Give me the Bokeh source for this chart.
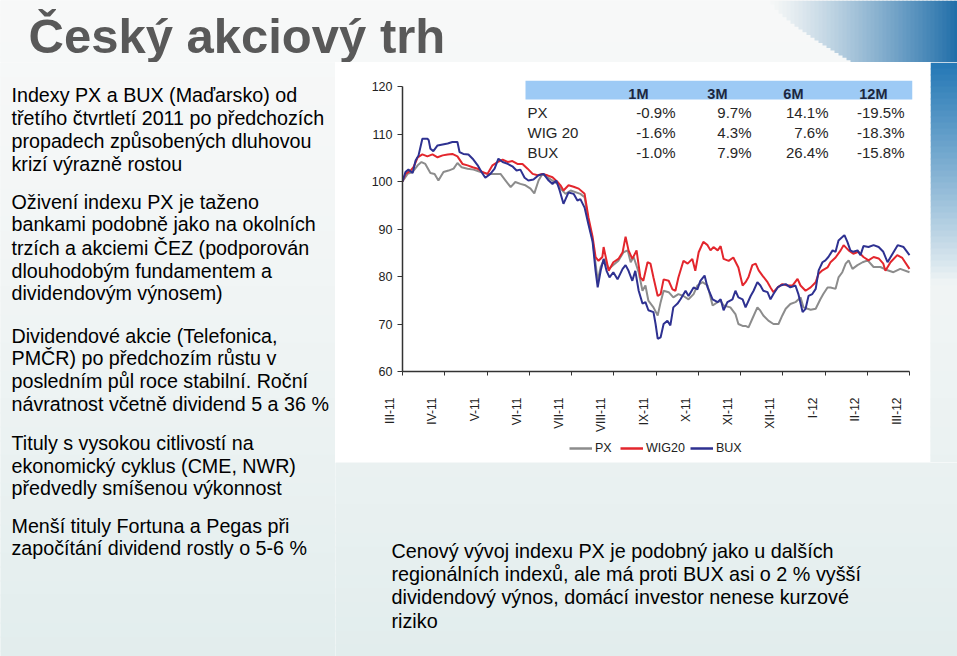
import math
from bokeh.plotting import figure
from bokeh.layouts import row, column
from bokeh.models import Range1d, FixedTicker, Label, BoxAnnotation, Legend, LegendItem, ColumnDataSource
from bokeh.core.properties import value
from bokeh.embed import file_html
from bokeh.resources import INLINE

# ---------------- data ----------------
month_labels = ["III-11", "IV-11", "V-11", "VI-11", "VII-11", "VIII-11", "IX-11",
                "X-11", "XI-11", "XII-11", "I-12", "II-12", "III-12"]
y_ticks = [60, 70, 80, 90, 100, 110, 120]

# time in months since start of the series, index value (start = 100)
px_t = [0, 0.12, 0.24, 0.36, 0.45, 0.54, 0.66, 0.76, 0.85, 0.97, 1.09, 1.21, 1.30, 1.40, 1.54,
        1.68, 1.85, 2.01, 2.15, 2.32, 2.44, 2.56, 2.67, 2.79, 2.91, 3.03, 3.12, 3.22, 3.31, 3.43,
        3.55, 3.67, 3.74, 3.86, 3.98, 4.21, 4.31, 4.40, 4.50, 4.57, 4.62, 4.69, 4.78, 4.88, 4.99,
        5.11, 5.23, 5.33, 5.40, 5.47, 5.59, 5.68, 5.75, 5.82, 5.94, 6.04, 6.11, 6.18, 6.30, 6.41,
        6.53, 6.65, 6.77, 6.89, 6.98, 7.10, 7.22, 7.34, 7.46, 7.53, 7.60, 7.76, 7.88, 7.95, 8.05,
        8.12, 8.19, 8.28, 8.40, 8.47, 8.54, 8.66, 8.78, 8.90, 8.99, 9.07, 9.18, 9.30, 9.42, 9.49,
        9.59, 9.66, 9.78, 9.89, 9.96, 10.06, 10.13, 10.25, 10.32, 10.41, 10.49, 10.56, 10.65,
        10.77, 10.89, 11.01, 11.15, 11.31, 11.48, 11.62, 11.78, 12.0]
px_v = [100.0, 101.6, 102.0, 103.4, 104.1, 103.7, 101.8, 101.6, 100.2, 102.0, 102.3, 102.7,
        103.9, 103.0, 102.7, 102.5, 102.0, 101.6, 101.6, 101.6, 100.2, 98.8, 99.9, 99.5, 99.2,
        98.5, 97.5, 100.2, 101.6, 100.9, 100.2, 99.5, 98.5, 97.4, 98.1, 97.4, 96.7, 91.8, 87.6,
        82.7, 79.1, 82.0, 83.7, 81.6, 82.4, 83.3, 85.1, 85.5, 83.0, 84.1, 80.9, 77.0, 78.1, 74.9,
        73.5, 71.8, 74.6, 77.0, 76.7, 75.6, 76.3, 75.9, 75.2, 76.3, 78.1, 78.8, 78.1, 73.9, 74.6,
        74.9, 73.9, 73.5, 72.1, 70.0, 69.6, 69.6, 69.3, 71.1, 73.5, 72.8, 71.8, 70.7, 70.0, 70.0,
        71.8, 73.2, 74.2, 74.6, 75.6, 73.5, 73.2, 73.0, 73.2, 75.2, 76.3, 77.7, 77.7, 77.4, 79.8,
        80.9, 82.7, 83.4, 81.6, 82.4, 83.0, 83.4, 82.0, 82.0, 81.3, 80.9, 81.6, 80.9]

wig_t = [0, 0.07, 0.19, 0.26, 0.36, 0.47, 0.59, 0.71, 0.83, 0.95,
         1.07, 1.18, 1.30, 1.42, 1.54, 1.66, 1.78, 1.89, 2.01, 2.13,
         2.25, 2.37, 2.49, 2.60, 2.72, 2.84, 2.96, 3.08, 3.20, 3.31,
         3.43, 3.55, 3.67, 3.74, 3.81, 3.93, 4.05, 4.17, 4.31, 4.40,
         4.50, 4.57, 4.64, 4.73, 4.76, 4.83, 4.88, 4.99, 5.11, 5.21,
         5.28, 5.35, 5.44, 5.54, 5.63, 5.70, 5.80, 5.87, 5.94, 6.04,
         6.11, 6.18, 6.30, 6.39, 6.46, 6.53, 6.65, 6.75, 6.86, 6.93,
         7.01, 7.12, 7.22, 7.29, 7.36, 7.46, 7.53, 7.60, 7.72, 7.83,
         7.95, 8.05, 8.12, 8.19, 8.28, 8.36, 8.43, 8.52, 8.64, 8.71,
         8.78, 8.88, 8.99, 9.11, 9.23, 9.35, 9.42, 9.54, 9.66, 9.78,
         9.85, 9.94, 10.06, 10.13, 10.25, 10.37, 10.44, 10.56, 10.67, 10.79,
         10.91, 11.03, 11.15, 11.27, 11.38, 11.43, 11.55, 11.71, 11.83, 12.0]
wig_v = [100.0, 101.6, 102.3, 103.0, 105.1, 105.7, 105.3, 105.7, 105.1, 105.5,
         105.7, 105.8, 105.3, 103.7, 103.4, 103.0, 102.7, 102.0, 101.6, 103.4,
         104.1, 104.6, 104.1, 104.3, 103.7, 103.7, 102.7, 101.6, 101.3, 101.6,
         101.3, 100.9, 99.9, 99.2, 98.1, 99.2, 98.9, 98.5, 97.4, 92.5,
         88.3, 84.1, 83.3, 84.1, 86.2, 83.3, 81.2, 83.0, 83.7, 85.1,
         88.4, 85.5, 83.7, 85.5, 79.8, 79.1, 83.0, 82.7, 79.8, 75.9,
         76.3, 79.4, 79.1, 77.3, 77.0, 79.8, 83.3, 82.7, 83.7, 81.2,
         85.1, 87.3, 86.6, 85.5, 86.2, 85.5, 86.4, 83.7, 83.3, 84.0,
         81.9, 78.1, 78.8, 79.9, 82.4, 82.7, 81.3, 80.2, 78.8, 77.7,
         76.7, 77.7, 78.4, 78.1, 78.1, 79.5, 78.1, 77.0, 77.7, 78.8,
         80.6, 81.3, 81.9, 83.0, 84.0, 85.5, 86.6, 85.5, 84.8, 85.2,
         84.1, 83.4, 84.1, 83.8, 82.7, 81.2, 83.0, 84.5, 83.9, 81.6]

bux_t = [0, 0.07, 0.14, 0.24, 0.31, 0.38, 0.47, 0.59, 0.62, 0.66,
         0.73, 0.83, 0.95, 1.07, 1.18, 1.30, 1.35, 1.44, 1.56, 1.66,
         1.78, 1.87, 1.96, 2.08, 2.18, 2.27, 2.37, 2.49, 2.60, 2.70,
         2.79, 2.89, 2.98, 3.10, 3.22, 3.34, 3.46, 3.55, 3.64, 3.72,
         3.81, 3.93, 4.05, 4.14, 4.21, 4.31, 4.40, 4.50, 4.57, 4.62,
         4.69, 4.76, 4.83, 4.90, 4.99, 5.09, 5.21, 5.28, 5.35, 5.44,
         5.51, 5.59, 5.68, 5.75, 5.82, 5.94, 5.99, 6.04, 6.11, 6.18,
         6.27, 6.34, 6.41, 6.51, 6.58, 6.70, 6.77, 6.89, 6.98, 7.05,
         7.15, 7.22, 7.34, 7.46, 7.53, 7.60, 7.69, 7.81, 7.88, 7.95,
         8.05, 8.12, 8.24, 8.31, 8.40, 8.47, 8.54, 8.64, 8.71, 8.78,
         8.88, 8.95, 9.07, 9.18, 9.30, 9.37, 9.47, 9.54, 9.61, 9.70,
         9.78, 9.85, 9.94, 10.01, 10.08, 10.18, 10.25, 10.32, 10.41, 10.46,
         10.53, 10.60, 10.67, 10.77, 10.84, 10.91, 11.03, 11.15, 11.27, 11.38,
         11.48, 11.60, 11.72, 11.86, 12.0]
bux_v = [100.0, 102.0, 102.5, 101.8, 104.4, 105.5, 109.0, 109.0, 108.7, 106.9,
         106.4, 107.6, 107.8, 108.0, 108.3, 108.3, 106.2, 105.8, 105.7, 104.8,
         103.4, 102.0, 100.8, 101.6, 102.7, 104.8, 104.1, 103.7, 103.2, 102.3,
         102.5, 100.8, 100.2, 100.4, 101.3, 101.6, 100.2, 99.5, 100.2, 98.1,
         95.3, 97.7, 97.4, 96.0, 96.3, 94.5, 91.0, 87.3, 81.2, 77.7,
         81.2, 83.7, 81.2, 79.8, 80.9, 79.4, 81.6, 82.4, 81.2, 79.1,
         81.2, 77.0, 74.3, 74.6, 72.9, 72.5, 70.0, 66.9, 67.2, 70.0,
         70.7, 69.7, 73.5, 74.3, 75.2, 77.0, 75.9, 77.7, 77.3, 79.1,
         80.2, 77.7, 75.2, 74.6, 75.2, 72.9, 74.6, 75.2, 77.0, 75.6,
         75.2, 73.5, 75.9, 77.0, 78.8, 78.1, 77.0, 76.7, 75.2, 76.3,
         77.7, 78.1, 78.4, 77.7, 78.1, 76.3, 72.5, 73.2, 75.9, 76.3,
         77.4, 81.3, 83.0, 83.4, 84.1, 85.5, 85.2, 87.6, 88.3, 88.7,
         87.3, 85.5, 85.2, 85.5, 84.5, 86.4, 86.2, 86.6, 86.2, 85.2,
         83.0, 84.8, 86.6, 86.2, 84.5]

series_names = ["PX", "WIG20", "BUX"]
series_colors = ["#8c8c8c", "#e3262d", "#2e3191"]

table_cols = ["1M", "3M", "6M", "12M"]
table_rows = ["PX", "WIG 20", "BUX"]
perf_px = [-0.9, 9.7, 14.1, -19.5]
perf_wig = [-1.6, 4.3, 7.6, -18.3]
perf_bux = [-1.0, 7.9, 26.4, -15.8]

title_text = "Český akciový trh"
bullet_paragraphs = [
    ["Indexy PX a BUX (Maďarsko) od", "třetího čtvrtletí 2011 po předchozích",
     "propadech způsobených dluhovou", "krizí výrazně rostou"],
    ["Oživení indexu PX je taženo", "bankami podobně jako na okolních",
     "trzích a akciemi ČEZ (podporován", "dlouhodobým fundamentem a",
     "dividendovým výnosem)"],
    ["Dividendové akcie (Telefonica,", "PMČR) po předchozím růstu v",
     "posledním půl roce stabilní. Roční", "návratnost včetně dividend 5 a 36 %"],
    ["Tituly s vysokou citlivostí na", "ekonomický cyklus (CME, NWR)",
     "předvedly smíšenou výkonnost"],
    ["Menší tituly Fortuna a Pegas při", "započítání dividend rostly o 5-6 %"],
]
note_lines = ["Cenový vývoj indexu PX je podobný jako u dalších",
              "regionálních indexů, ale má proti BUX asi o 2 % vyšší",
              "dividendový výnos, domácí investor nenese kurzové",
              "riziko"]

# ---------------- geometry (page pixels) ----------------
PAGE_W, PAGE_H = 957, 656
TOP_H = 62                       # title strip
PL, PR, PB = 335, 930, 462       # white chart panel (left, right, bottom)
AX_X0, AX_Y0 = 402, 371          # pixel of (month 0, value 60)
X_PER_M, Y_PER_U = 42.25, 4.75   # pixels per month / per index point
FR_R, FR_T = 912, 80             # frame right / top edge
CH_B = 392                       # bottom edge of chart figure
FONT = "Liberation Sans"
BG = "#f4f6f6"


def mix(c1, c2, t):
    t = max(0.0, min(1.0, t))
    a = [int(c1[i:i + 2], 16) for i in (1, 3, 5)]
    b = [int(c2[i:i + 2], 16) for i in (1, 3, 5)]
    return "#%02x%02x%02x" % tuple(int(round(a[k] + (b[k] - a[k]) * t)) for k in range(3))


def bg_color(Y):
    # soft vertical gradient of the slide background
    return mix("#f7f8f8", "#e2eded", (Y / PAGE_H) ** 1.4)


def base_fig(w, h, xr, yr, **kw):
    f = figure(width=w, height=h, x_range=xr, y_range=yr, title=None,
               output_backend="svg", toolbar_location=None, frame_align=False, **kw)
    f.outline_line_color = None
    return f


def canvas(x0, x1, y0, y1, fill):
    f = base_fig(x1 - x0, y1 - y0, Range1d(x0, x1), Range1d(y1, y0),
                 x_axis_location=None, y_axis_location=None, min_border=0)
    f.grid.visible = False
    f.background_fill_color = fill
    f.border_fill_color = fill
    return f


def box(f, x0, x1, y0, y1, color):
    f.add_layout(BoxAnnotation(left=x0, right=x1, top=y0, bottom=y1, fill_color=color,
                               fill_alpha=1.0, line_color=None))


def bg_bands(f, x0, x1, y0, y1, step=14):
    y = y0
    while y < y1:
        box(f, x0 - 2, x1 + 2, y, min(y + step, y1) + 1, bg_color(y + step / 2))
        y += step


def lab(f, X, Y, s, size, color="#000000", bold=False, align="left"):
    # Y is the vertical centre of the text line
    f.add_layout(Label(x=X, y=Y, text=s, text_font=FONT, text_font_size="%gpx" % size,
                       text_color=color, text_font_style="bold" if bold else "normal",
                       text_align=align, text_baseline="middle"))


# ---------------- top strip: title + swoosh ----------------
top = canvas(0, PAGE_W, 0, TOP_H, BG)
bg_bands(top, 0, PAGE_W, 0, TOP_H)
X = 770
while X < PAGE_W:
    t = (X - 770) / (PAGE_W - 770)
    bottom = TOP_H if X > 850 else 4 + (TOP_H - 4) * ((X - 770) / 80.0) ** 0.8
    box(top, X, X + 5, 0, bottom, mix(BG, "#1d6ca8", t ** 1.2))
    X += 4
lab(top, 28, 35.5, title_text, 49, color="#595959", bold=True)

# ---------------- left text column ----------------
left = canvas(0, PL, TOP_H, PAGE_H, BG)
bg_bands(left, 0, PL, TOP_H, PAGE_H)
para_centres = [[94, 117, 140, 163], [201, 223.5, 247, 270, 292.5],
                [335, 357.5, 380.5, 403.5], [442, 465, 487.5], [525, 547.5]]
for lines, cs in zip(bullet_paragraphs, para_centres):
    for s, c in zip(lines, cs):
        lab(left, 11, c, s, 19.7)

# ---------------- chart ----------------
ch = base_fig(PR - PL, CH_B - TOP_H,
              Range1d(0, (FR_R - AX_X0) / X_PER_M),
              Range1d(y_ticks[0], y_ticks[0] + (AX_Y0 - FR_T) / Y_PER_U),
              min_border_left=AX_X0 - PL, min_border_right=PR - FR_R,
              min_border_top=FR_T - TOP_H, min_border_bottom=CH_B - AX_Y0)
ch.background_fill_color = "white"
ch.border_fill_color = "white"
ch.xgrid.visible = False
ch.ygrid.visible = False

r_px = ch.line(px_t, px_v, line_color=series_colors[0], line_width=2)
r_wig = ch.line(wig_t, wig_v, line_color=series_colors[1], line_width=2)
r_bux = ch.line(bux_t, bux_v, line_color=series_colors[2], line_width=2)

n_m = len(month_labels) - 1
ch.yaxis.ticker = FixedTicker(ticks=y_ticks)
ch.yaxis.bounds = (y_ticks[0], y_ticks[-1])
ch.yaxis.major_tick_out = 5
ch.yaxis.major_tick_in = 0
ch.yaxis.minor_tick_line_color = None
ch.yaxis.axis_line_color = "#333333"
ch.yaxis.axis_line_width = 1.5
ch.yaxis.major_tick_line_color = "#333333"
ch.yaxis.major_label_text_font = FONT
ch.yaxis.major_label_text_font_size = "12.5px"
ch.yaxis.major_label_text_color = "#222222"
ch.yaxis.major_label_standoff = 5

ch.xaxis.ticker = FixedTicker(ticks=list(range(n_m + 1)))
ch.xaxis.bounds = (0, n_m)
ch.xaxis.major_label_overrides = {i: "" for i in range(n_m + 1)}
ch.xaxis.major_label_standoff = 0
ch.xaxis.major_tick_out = 4
ch.xaxis.major_tick_in = 0
ch.xaxis.minor_tick_line_color = None
ch.xaxis.axis_line_color = "#333333"
ch.xaxis.axis_line_width = 1.5
ch.xaxis.major_tick_line_color = "#333333"


def cx(X):
    return (X - AX_X0) / X_PER_M


def cy(Y):
    return y_ticks[0] + (AX_Y0 - Y) / Y_PER_U


# performance table
ch.add_layout(BoxAnnotation(left=cx(525), right=cx(912), top=cy(80), bottom=cy(99),
                            fill_color="#9dcaf5", fill_alpha=1.0, line_color=None))
head_right = [648, 727, 803, 887]
val_right = [675, 751, 828, 904]
row_mid = [111.7, 131.7, 151.7]
for c, hx in zip(table_cols, head_right):
    ch.add_layout(Label(x=cx(hx), y=cy(93), text=c, text_font=FONT, text_font_size="14.5px",
                        text_font_style="bold", text_color="#1c2740", text_align="right",
                        text_baseline="middle"))
for r, (name, vals) in enumerate(zip(table_rows, [perf_px, perf_wig, perf_bux])):
    ch.add_layout(Label(x=cx(527), y=cy(row_mid[r]), text=name, text_font=FONT,
                        text_font_size="15px", text_color="#262626", text_baseline="middle"))
    for v, vx in zip(vals, val_right):
        ch.add_layout(Label(x=cx(vx), y=cy(row_mid[r]), text="%.1f%%" % v, text_font=FONT,
                            text_font_size="15px", text_color="#262626", text_align="right",
                            text_baseline="middle"))

# ---------------- month labels + legend strip under the chart ----------------
lb = base_fig(PR - PL, PB - CH_B, Range1d(cx(PL), cx(PR)), Range1d(PB, CH_B),
              x_axis_location=None, y_axis_location=None, min_border=0)
lb.grid.visible = False
lb.background_fill_color = "white"
lb.border_fill_color = "white"
LBL_SHIFT = 12.3 / X_PER_M
msrc = ColumnDataSource(dict(x=[i - LBL_SHIFT for i in range(n_m + 1)],
                             y=[397] * (n_m + 1), text=month_labels))
lb.text(x="x", y="y", text="text", source=msrc, angle=math.pi / 2, text_align="right",
        text_baseline="middle", text_font=value(FONT), text_font_size="12px",
        text_color="#222222")
# legend proxies: same series, outside this strip's visible range
proxies = [lb.line(t, v, line_color=c, line_width=2.5)
           for t, v, c in zip([px_t, wig_t, bux_t], [px_v, wig_v, bux_v], series_colors)]
legend = Legend(items=[LegendItem(label=n, renderers=[r]) for n, r in zip(series_names, proxies)],
                orientation="horizontal", location=(569 - PL, PB - 456), glyph_width=23,
                glyph_height=16, label_height=16, label_standoff=3, spacing=5, padding=0,
                margin=0, border_line_color=None, background_fill_alpha=0,
                label_text_font=FONT, label_text_font_size="12.5px",
                label_text_color="#222222")
lb.add_layout(legend)

# ---------------- right strip (swoosh continuation) ----------------
rs = canvas(PR, PAGE_W, TOP_H, PB, BG)
bg_bands(rs, PR, PAGE_W, TOP_H, PB)
Y = TOP_H
while Y < 280:
    t = 1 - (Y - TOP_H) / (280 - TOP_H)
    box(rs, PR, PAGE_W + 2, Y, Y + 7, mix(bg_color(Y), "#2679b6", t ** 0.9))
    Y += 6

# ---------------- bottom note ----------------
nt = canvas(PL, PAGE_W, PB, PAGE_H, BG)
bg_bands(nt, PL, PAGE_W, PB, PAGE_H)
for s, c in zip(note_lines, [550, 573, 596.5, 620]):
    lab(nt, 391, c, s, 19.8)

page = column(top, row(left, column(row(column(ch, lb), rs), nt)))
open("out.html", "w").write(file_html(page, INLINE))
